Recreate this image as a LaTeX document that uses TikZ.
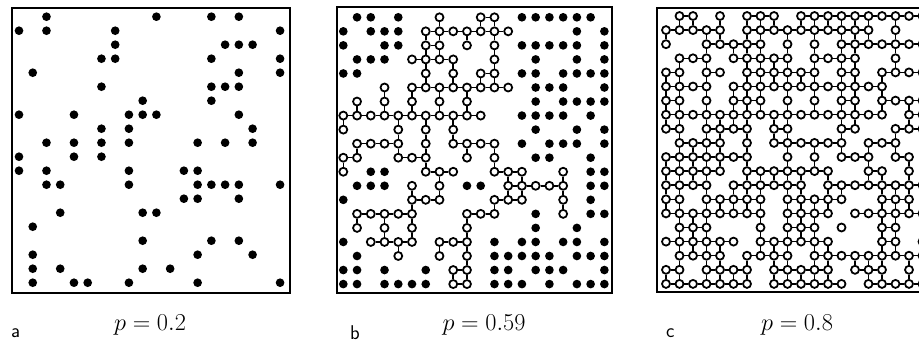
\documentclass[tikz,border=0pt]{standalone}
\usepackage{xstring}

\tikzset{
  site/.style={circle,fill=black,inner sep=0pt,minimum size=0.26cm},
  osite/.style={circle,draw=black,fill=white,line width=1.5pt,inner sep=0pt,minimum size=0.24cm},
  bond/.style={line width=1.3pt},
  frame/.style={line width=1.4pt},
  panel label/.style={font=\fontsize{17}{19}\sffamily,anchor=west},
  p label/.style={font=\fontsize{21}{25}\selectfont},
}

% x = occupied site, o = site of the big cluster, - = empty
\newcommand{\lattice}[2]{%
  \gdef\prevrow{--------------------}%
  \foreach \row [count=\j from 0] in {#2} {%
    \foreach \i in {0,...,19} {%
      \pgfmathtruncatemacro{\pos}{\i+1}%
      \StrChar{\row}{\pos}[\site]%
      \IfStrEq{\site}{x}{\node[site] (#1-\i-\j) at (\i,\j) {};}{}%
      \IfStrEq{\site}{o}{%
        \node[osite] (#1-\i-\j) at (\i,\j) {};%
        \pgfmathtruncatemacro{\ii}{\i-1}%
        \pgfmathtruncatemacro{\jj}{\j-1}%
        \StrChar{\row}{\i}[\prv]%
        \StrChar{\prevrow}{\pos}[\abv]%
        \IfStrEq{\prv}{o}{\draw[bond] (#1-\ii-\j) -- (#1-\i-\j);}{}%
        \IfStrEq{\abv}{o}{\draw[bond] (#1-\i-\jj) -- (#1-\i-\j);}{}%
      }{}%
    }%
    \global\let\prevrow\row
  }%
}

\begin{document}
\begin{tikzpicture}[x=0.03cm,y=-0.03cm]
\clip (0,0) rectangle (919,343);

% p = 0.2
\draw[frame] (12,8) rectangle (290,293);
\begin{scope}[shift={(19,16.7)},x=0.4122cm,y=-0.42cm]
\lattice{a}{--x-------x---x-x---,
x-x----x-----------x,
-------x-------xxx--,
------xx------x----x,
-x--------------x--x,
------x-------xxx---,
---------x----x-----,
x---x---xxx-----x---,
------x-x--------x--,
--x-x-x-x----x-x-x--,
x---x-x-------------,
x-x-----x---xx------,
--xx----x----xxxx--x,
------------xx--x---,
---x-----xx---------,
-x------------------,
---------x----x-x---,
-x-----------x---x--,
-x-x-----x-x--------,
-x--xx--x----x-----x}
\end{scope}

% p = 0.59
\draw[frame] (336.7,7.3) rectangle (612,292.7);
\begin{scope}[shift={(343.3,17.3)},x=0.4122cm,y=-0.4212cm]
\lattice{b}{-xx-x--o--oo-xxxxxx-,
x-xxx-ooooooo----x-x,
x--xx-oo-o-o-xxxxx-x,
-xxx-oooo--o--x--x-x,
xx----o-o-oo-xx-xxxx,
---o-oooooooo-xxx--x,
-o-o-o-o-o----x-xxxx,
ooooooooooo--xxxx-x-,
o---o-o-o-----x--x-x,
-oooo-o-oooo-x-xxx-x,
oo--ooo--o-o--xx--x-,
o-xx--ooo--ooo--o-xx,
-xxx-o-o-xx-ooooo-xx,
x----ooo---ooo--o-x-,
-ooooo---ooo--x-o-xx,
-o-o-o---o----x--x--,
x-oooo-ooo-x-xx-xx-x,
-x--o--o-o-xxxxx-xxx,
xx-x--x-oo-xx-xxx--x,
xx-xxxx-oo-xxx-x-xxx}
\end{scope}

% p = 0.8
\draw[frame] (656.7,8.3) rectangle (929,292);
\begin{scope}[shift={(666,16)},x=0.405cm,y=-0.423cm]
\lattice{c}{-oo-o-ooo-oooooooooo,
ooooo-oooooooooo-o--,
o--ooooo-o-o-ooooooo,
-ooo-ooooo-oooo--o--,
oo-oo-oooooo-oo-oooo,
oooo-oooooooooooo---,
oo-o-ooo-o-o-oo-oooo,
ooooooooooooooooo-oo,
oo-oooo-oo---oo--ooo,
-oooo-o-oooooo-ooo--,
ooooooo--o-o-ooo-oo-,
ooooo-ooooooo--oo-o-,
oooo-oooooo-oooooooo,
oo-ooooo-ooooo--ooo-,
oooooooo-oooo-oooooo,
-ooo---o-ooo-o--oo--,
oooooo-oooooo---oo-o,
-oooo-oooo-ooooooooo,
oo-oooo-ooooo-ooo-o-,
ooooooo-oooooo-ooooo}
\end{scope}

\node[panel label] (labA) at (7,333) {a};
\node[p label] (pA) at (150,325) {$p=0.2$};
\node[panel label] (labB) at (346,333) {b};
\node[p label] (pB) at (484,325) {$p=0.59$};
\node[panel label] (labC) at (662,333) {c};
\node[p label] (pC) at (797,325) {$p=0.8$};
\end{tikzpicture}
\end{document}
